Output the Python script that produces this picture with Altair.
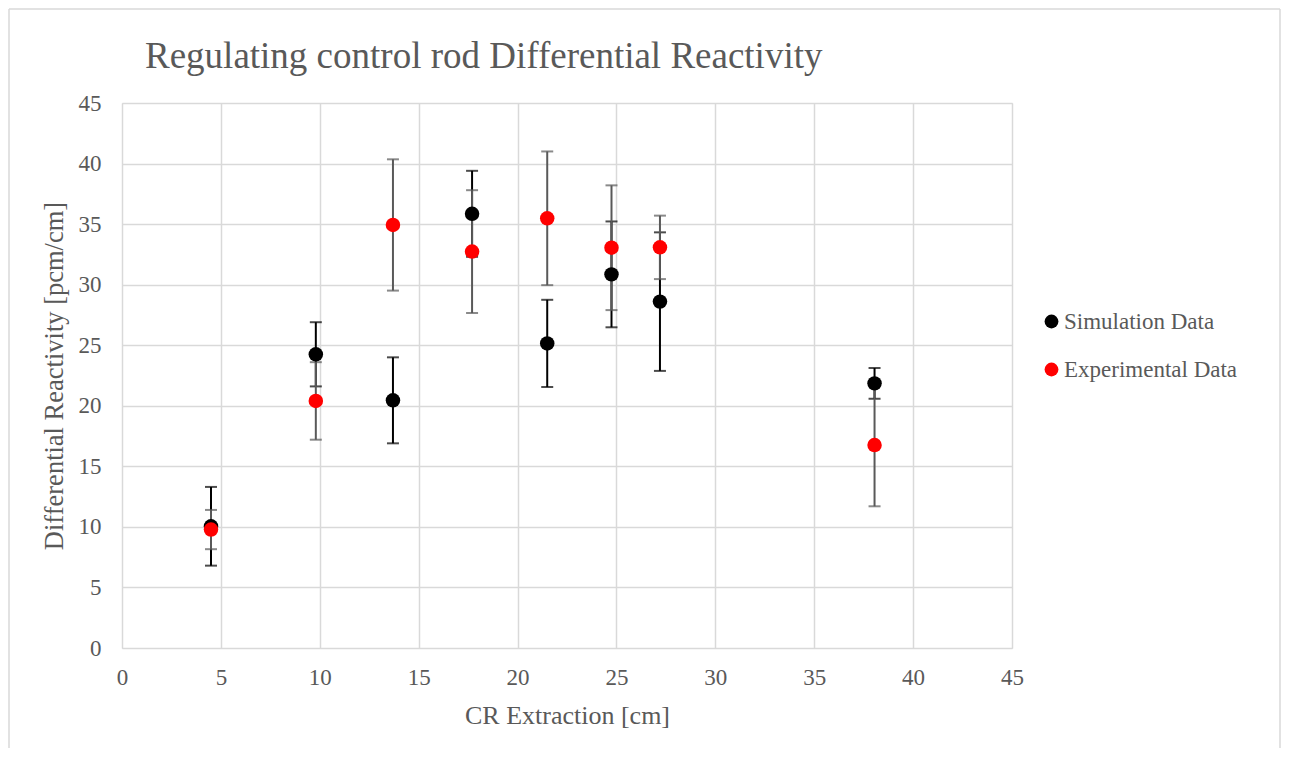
import altair as alt
import pandas as pd

# Data
cr_extraction = [4.5, 9.8, 13.7, 17.7, 21.5, 24.75, 27.2, 38.05]
sim_values = [10.05, 24.25, 20.45, 35.85, 25.15, 30.85, 28.6, 21.85]
sim_errors = [3.25, 2.65, 3.55, 3.55, 3.6, 4.37, 5.72, 1.27]
exp_values = [9.78, 20.4, 34.93, 32.73, 35.48, 33.05, 33.08, 16.76]
exp_errors = [1.62, 3.2, 5.42, 5.07, 5.52, 5.15, 2.62, 5.06]
series_names = ["Simulation Data", "Experimental Data"]
series_colors = ["#000000", "#ff0000"]
bar_colors = ["#000000", "#595959"]
ticks = [0, 5, 10, 15, 20, 25, 30, 35, 40, 45]
chart_title = "Regulating control rod Differential Reactivity"

rows = []
for name, vals, errs in [(series_names[0], sim_values, sim_errors),
                         (series_names[1], exp_values, exp_errors)]:
    for x, v, e in zip(cr_extraction, vals, errs):
        rows.append({"x": x, "y": v, "lo": v - e, "hi": v + e, "series": name})
df = pd.DataFrame(rows)

FONT = "Liberation Serif"
TXT = "#595959"
GRID = "#d9d9d9"

xscale = alt.Scale(domain=[0, 45], nice=False, zero=False)
yscale = alt.Scale(domain=[0, 45], nice=False, zero=False)

xaxis = alt.Axis(values=ticks, title="CR Extraction [cm]", grid=True, gridColor=GRID,
                 gridWidth=1.5, domain=False, ticks=False, labelFont=FONT,
                 labelFontSize=23, labelColor=TXT, labelPadding=18, labelFlush=False,
                 titleFont=FONT, titleFontSize=26, titleFontWeight="normal",
                 titleColor=TXT, titlePadding=13)
yaxis = alt.Axis(values=ticks, title="Differential  Reactivity [pcm/cm]", grid=True,
                 gridColor=GRID, gridWidth=1.5, domain=False, ticks=False,
                 labelFont=FONT, labelFontSize=23, labelColor=TXT, labelPadding=21,
                 labelFlush=False, titleFont=FONT, titleFontSize=26.5,
                 titleFontWeight="normal", titleColor=TXT, titlePadding=10)

base = alt.Chart(df)
X = alt.X("x:Q", scale=xscale, axis=xaxis)

layers = []
for name, col in zip(series_names, bar_colors):
    sub = base.transform_filter(alt.datum.series == name)
    layers.append(sub.mark_rule(color=col, strokeWidth=2).encode(
        x=alt.X("x:Q", scale=xscale),
        y=alt.Y("lo:Q", scale=yscale),
        y2="hi:Q"))
    layers.append(sub.mark_tick(color=col, size=12, thickness=2, orient="horizontal").encode(
        x=alt.X("x:Q", scale=xscale), y=alt.Y("lo:Q", scale=yscale)))
    layers.append(sub.mark_tick(color=col, size=12, thickness=2, orient="horizontal").encode(
        x=alt.X("x:Q", scale=xscale), y=alt.Y("hi:Q", scale=yscale)))

points = base.mark_circle(size=210, opacity=1).encode(
    x=X,
    y=alt.Y("y:Q", scale=yscale, axis=yaxis),
    color=alt.Color("series:N", sort=series_names,
                    scale=alt.Scale(domain=series_names, range=series_colors),
                    legend=alt.Legend(title=None, orient="none", legendX=918, legendY=207,
                                      labelFont=FONT, labelFontSize=23, labelColor=TXT,
                                      labelLimit=0, symbolSize=190, symbolType="circle",
                                      symbolStrokeWidth=0, rowPadding=24,
                                      labelOffset=1, padding=0)),
)

# chart-area frame (open at the bottom, as in the reference crop)
frame_df = pd.DataFrame({"a": [0]})
frame_top = alt.Chart(frame_df).mark_rule(color=GRID, strokeWidth=1.5).encode(
    x=alt.value(-113), x2=alt.value(1158), y=alt.value(-94))
frame_left = alt.Chart(frame_df).mark_rule(color=GRID, strokeWidth=1.5).encode(
    x=alt.value(-113), y=alt.value(-94), y2=alt.value(660))
frame_right = alt.Chart(frame_df).mark_rule(color=GRID, strokeWidth=1.5).encode(
    x=alt.value(1158), y=alt.value(-94), y2=alt.value(660))

title = alt.Chart(pd.DataFrame({"t": [chart_title]})).mark_text(
    align="left", baseline="alphabetic", font=FONT, fontSize=37, color=TXT).encode(
    x=alt.value(23), y=alt.value(-35), text="t:N")

chart = alt.layer(frame_top, frame_left, frame_right, title, *layers, points).properties(
    width=890, height=545,
    padding={"left": 114, "top": 95, "right": 269, "bottom": 100},
    autosize=alt.AutoSizeParams(type="none"),
).configure_view(stroke=None).configure(background="white")

chart.save("out.html", embed_options={"renderer": "svg", "actions": False})
